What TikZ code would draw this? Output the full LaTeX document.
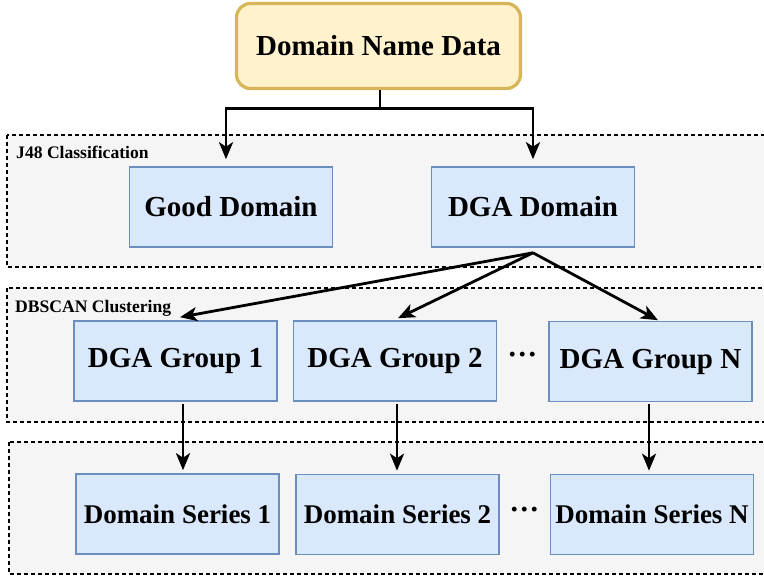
\documentclass[tikz,border=0pt]{standalone}
\usepackage{fontspec}
\setmainfont{Liberation Serif}
\usetikzlibrary{arrows.meta,calc}
\definecolor{ybg}{HTML}{FFF2CC}
\definecolor{ybd}{HTML}{D6B656}
\definecolor{bbg}{HTML}{DAE8FC}
\definecolor{bbd}{HTML}{6C8EBF}
\definecolor{cbg}{HTML}{F5F5F5}
\tikzset{
  topbox/.style={draw=ybd, fill=ybg, line width=3.2pt, rounded corners=14pt,
    minimum width=284pt, minimum height=85pt, inner sep=0pt, font=\fontsize{29}{34}\selectfont\bfseries},
  bluebox/.style={draw=bbd, fill=bbg, line width=1.6pt,
    minimum width=203pt, minimum height=80pt, inner sep=0pt, font=\fontsize{29}{34}\selectfont\bfseries},
  serbox/.style={bluebox, font=\fontsize{27}{32}\selectfont\bfseries},
  container/.style={draw=black, fill=cbg, line width=2.3pt, dash pattern=on 4pt off 3pt},
  clabel/.style={anchor=base west, inner sep=0pt, font=\fontsize{17.6}{20}\selectfont\bfseries},
  dotsnode/.style={inner sep=0pt, font=\fontsize{30}{34}\selectfont\bfseries},
  arr/.style={draw=black, line width=2.8pt, -{Stealth[length=17pt,width=14pt,inset=4.5pt]}},
}
\begin{document}
\begin{tikzpicture}[x=1pt,y=-1pt]
\useasboundingbox (0,0) rectangle (764,581);
\begin{scope}
\clip (0,0) rectangle (764,581);
\path[container] (7,135) rectangle (800,267);
\path[container] (7,288) rectangle (800,422);
\path[container] (9,442) rectangle (800,574);
\end{scope}
\node[clabel] (lab1) at (16,158) {J48 Classification};
\node[clabel] (lab2) at (15,312) {DBSCAN Clustering};
% nodes
\node[topbox] (top) at (378.5,46) {Domain Name Data};
\node[bluebox] (good) at (231,207) {Good Domain};
\node[bluebox] (dga) at (533,207) {DGA Domain};
\node[bluebox] (g1) at (175.5,361) {DGA Group 1};
\node[bluebox] (g2) at (395,361) {DGA Group 2};
\node[bluebox] (gn) at (650.5,361.5) {DGA Group N};
\node[serbox] (s1) at (177.5,514) {Domain Series 1};
\node[serbox] (s2) at (397.5,514.5) {Domain Series 2};
\node[serbox] (sn) at (652,514.5) {Domain Series N};
\node[dotsnode] (d1) at (522.5,358) {···};
\node[dotsnode] (d2) at (524.5,513) {···};
% connectors
\coordinate (split) at ($(top.south)+(1.5,18)$);
\draw[arr] ($(top.south)+(1.5,0)$) -- (split) -| ($(good.north)+(-5,-7)$);
\draw[arr] (split) -| ($(dga.north)+(0,-7)$);
\coordinate (fan) at ($(dga.south)+(0,5)$);
\draw[arr] (fan) -- ($(g1.north)+(4.5,-3)$);
\draw[arr] (fan) -- ($(g2.north)+(3,-2)$);
\draw[arr] (fan) -- ($(gn.north)+(7.5,-0.5)$);
\draw[arr] ($(g1.south)+(7.5,2)$) -- ($(s1.north)+(5.5,-3)$);
\draw[arr] ($(g2.south)+(2,2)$) -- ($(s2.north)+(-0.5,-3)$);
\draw[arr] ($(gn.south)+(-1.5,2)$) -- ($(sn.north)+(-3,-3)$);
\end{tikzpicture}
\end{document}
